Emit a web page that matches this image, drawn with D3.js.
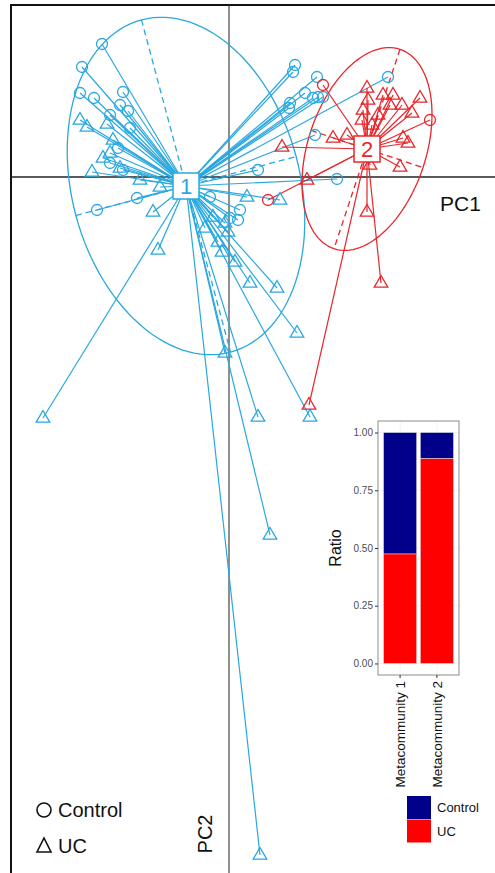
<!DOCTYPE html>
<html>
<head>
<meta charset="utf-8">
<script src="https://cdn.jsdelivr.net/npm/d3@7"></script>
<style>
  body { margin: 0; background: #fff; }
  svg { display: block; font-family: "Liberation Sans", Arial, sans-serif; }
</style>
</head>
<body>
<svg id="chart" width="495" height="873"></svg>
<script>
// ---- Ordination scores (PC1, PC2) per metacommunity and sample type ----
const groupNames = ["1", "2"];
const groupColors = ["#29a8df", "#e8262b"];
const centroids = [[-0.43, -0.09], [1.38, 0.28]];
// [semi-major, semi-minor, major-axis angle in degrees]
const ellipseShapes = [[1.72, 1.14, 105], [1.05, 0.59, 71.7]];

const meta1Control = [
  [-1.27, 1.33], [-1.47, 1.10], [-1.49, 0.84], [-1.35, 0.79], [-1.06, 0.85],
  [-1.09, 0.72], [-1.01, 0.66], [-1.19, 0.62], [0.66, 1.12], [0.64, 1.05],
  [0.88, 1.00], [0.76, 0.84], [0.61, 0.74], [0.60, 0.69], [0.84, 0.79],
  [0.89, 0.80], [0.94, 0.80], [0.86, 0.42], [1.59, 1.00], [0.29, 0.07],
  [1.08, -0.02], [-0.92, -0.21], [-1.32, -0.33], [-1.06, 0.07], [-0.19, -0.20],
  [0.11, -0.33], [0.09, -0.43], [-1.19, 0.14], [-1.11, 0.29], [-0.99, 0.49],
  [0.01, -0.41]
];
const meta1UC = [
  [-1.49, 0.57], [-1.42, 0.50], [-1.22, 0.53], [-1.16, 0.37], [-1.19, 0.24],
  [-1.26, 0.19], [-1.37, 0.05], [-1.09, 0.09], [-0.89, -0.03], [-0.76, -0.35],
  [-0.71, -0.73], [-0.69, -0.10], [0.18, -0.20], [0.51, -0.23], [-0.04, -0.46],
  [-0.24, -0.51], [-0.11, -0.65], [-0.07, -0.75], [0.06, -0.85], [0.21, -1.06],
  [0.48, -1.11], [0.68, -1.56], [-0.04, -1.76], [0.29, -2.40], [0.81, -2.40],
  [0.41, -3.58], [0.31, -6.78], [-1.86, -2.41], [-0.16, -0.40], [-0.01, -0.55]
];
const meta2Control = [[0.94, 0.92], [2.01, 0.57], [0.39, -0.23]];
const meta2UC = [
  [0.53, 0.30], [1.04, 0.39], [1.18, 0.42], [0.78, -0.03], [1.38, 0.89],
  [1.38, -0.35], [1.54, 0.82], [1.64, 0.82], [1.91, 0.79], [1.73, 0.72],
  [1.83, 0.64], [1.34, 0.67], [1.49, 0.62], [1.33, 0.57], [1.74, 0.39],
  [1.79, 0.34], [1.71, 0.10], [1.41, 0.12], [1.52, -1.06], [0.80, -2.28],
  [1.43, 0.52], [1.61, 0.72], [1.39, 0.77]
];

// ---- Share of sample types within each metacommunity ----
const metaCategories = ["Metacommunity 1", "Metacommunity 2"];
const ucRatio = [0.474, 0.887];
const controlRatio = ucRatio.map(v => 1 - v);
const ratioTicks = [0, 0.25, 0.5, 0.75, 1];
const sampleTypes = ["Control", "UC"];
const sampleColors = ["#00008b", "#ff0000"];

const svg = d3.select("#chart");
const x = d3.scaleLinear().domain([-2.18, 2.66]).range([11, 495]);
const y = d3.scaleLinear().domain([1.72, -6.96]).range([5, 873]);

// frame and zero axes
svg.append("rect").attr("x", 11).attr("y", 5).attr("width", 520).attr("height", 920)
  .attr("fill", "none").attr("stroke", "#111").attr("stroke-width", 2);
svg.append("line").attr("x1", 11).attr("x2", 495).attr("y1", y(0)).attr("y2", y(0))
  .attr("stroke", "#222").attr("stroke-width", 1.5);
svg.append("line").attr("x1", x(0)).attr("x2", x(0)).attr("y1", 5).attr("y2", 873)
  .attr("stroke", "#333").attr("stroke-width", 1.1);

const groups = [
  { c: centroids[0], e: ellipseShapes[0], color: groupColors[0], name: groupNames[0],
    pts: meta1Control.map(p => ({p, t: "c"})).concat(meta1UC.map(p => ({p, t: "u"}))) },
  { c: centroids[1], e: ellipseShapes[1], color: groupColors[1], name: groupNames[1],
    pts: meta2Control.map(p => ({p, t: "c"})).concat(meta2UC.map(p => ({p, t: "u"}))) }
];

function rot(c, ang, u, v) {
  const t = ang * Math.PI / 180;
  return [c[0] + u * Math.cos(t) - v * Math.sin(t), c[1] + u * Math.sin(t) + v * Math.cos(t)];
}
const line = d3.line().x(d => x(d[0])).y(d => y(d[1]));

const triPath = "M0,-7.5L6.8,4.2L-6.8,4.2Z";

groups.forEach(g => {
  const [a, b, ang] = g.e;
  const pts = d3.range(0, 361, 3).map(deg => {
    const u = deg * Math.PI / 180;
    return rot(g.c, ang, a * Math.cos(u), b * Math.sin(u));
  });
  svg.append("path").attr("d", line(pts)).attr("fill", "none")
    .attr("stroke", g.color).attr("stroke-width", 1.3);
  // ellipse axes
  [[[a, 0], [-a, 0]], [[0, b], [0, -b]]].forEach(([p, q]) => {
    svg.append("path").attr("d", line([rot(g.c, ang, p[0], p[1]), rot(g.c, ang, q[0], q[1])]))
      .attr("fill", "none").attr("stroke", g.color).attr("stroke-width", 1.3)
      .attr("stroke-dasharray", "6,4");
  });
  // star lines
  g.pts.forEach(d => {
    svg.append("line").attr("x1", x(g.c[0])).attr("y1", y(g.c[1]))
      .attr("x2", x(d.p[0])).attr("y2", y(d.p[1]))
      .attr("stroke", g.color).attr("stroke-width", 1.2);
  });
});

groups.forEach(g => {
  g.pts.forEach(d => {
    if (d.t === "c") {
      svg.append("circle").attr("cx", x(d.p[0])).attr("cy", y(d.p[1])).attr("r", 5.5)
        .attr("fill", "none").attr("stroke", g.color).attr("stroke-width", 1.3);
    } else {
      svg.append("path").attr("d", triPath)
        .attr("transform", `translate(${x(d.p[0])},${y(d.p[1])})`)
        .attr("fill", "none").attr("stroke", g.color).attr("stroke-width", 1.3);
    }
  });
});

groups.forEach(g => {
  const cx = x(g.c[0]), cy = y(g.c[1]);
  svg.append("rect").attr("x", cx - 13).attr("y", cy - 13).attr("width", 26).attr("height", 26)
    .attr("fill", "#fff").attr("stroke", g.color).attr("stroke-width", 1.5);
  svg.append("text").attr("x", cx).attr("y", cy + 8).attr("text-anchor", "middle")
    .attr("font-size", 22).attr("fill", g.color).text(g.name);
});

// axis names
svg.append("text").attr("x", 440).attr("y", 211).attr("font-size", 21).attr("fill", "#111").text("PC1");
svg.append("text").attr("transform", "translate(212,834) rotate(-90)").attr("text-anchor", "middle")
  .attr("font-size", 20).attr("fill", "#111").text("PC2");

// symbol legend
const legendRows = [{t: "c", label: "Control", y: 810}, {t: "u", label: "UC", y: 846}];
legendRows.forEach(r => {
  if (r.t === "c") {
    svg.append("circle").attr("cx", 44).attr("cy", r.y).attr("r", 7)
      .attr("fill", "none").attr("stroke", "#111").attr("stroke-width", 1.6);
  } else {
    svg.append("path").attr("d", "M0,-8L7,6L-7,6Z").attr("transform", `translate(44,${r.y})`)
      .attr("fill", "none").attr("stroke", "#111").attr("stroke-width", 1.6);
  }
  svg.append("text").attr("x", 58).attr("y", r.y + 7).attr("font-size", 20)
    .attr("fill", "#111").text(r.label);
});

// ---- inset stacked bar chart ----
const panel = {x0: 378, x1: 459, y0: 421, y1: 675};
const ry = d3.scaleLinear().domain([-0.05, 1.05]).range([panel.y1, panel.y0]);
const bx = d3.scaleBand().domain(metaCategories).range([panel.x0, panel.x1])
  .paddingInner(0.1).paddingOuter(0.15);
const inset = svg.append("g");
inset.append("rect").attr("x", panel.x0).attr("y", panel.y0)
  .attr("width", panel.x1 - panel.x0).attr("height", panel.y1 - panel.y0).attr("fill", "#fff");
ratioTicks.forEach(t => {
  inset.append("line").attr("x1", panel.x0).attr("x2", panel.x1).attr("y1", ry(t)).attr("y2", ry(t))
    .attr("stroke", "#ebebeb").attr("stroke-width", 0.6);
});
metaCategories.forEach(c => {
  const cx = bx(c) + bx.bandwidth() / 2;
  inset.append("line").attr("x1", cx).attr("x2", cx).attr("y1", panel.y0).attr("y2", panel.y1)
    .attr("stroke", "#ebebeb").attr("stroke-width", 0.6);
});
metaCategories.forEach((c, i) => {
  inset.append("rect").attr("x", bx(c)).attr("width", bx.bandwidth())
    .attr("y", ry(1)).attr("height", ry(ucRatio[i]) - ry(1))
    .attr("fill", sampleColors[0]).attr("stroke", "#e6e6e6").attr("stroke-width", 0.5);
  inset.append("rect").attr("x", bx(c)).attr("width", bx.bandwidth())
    .attr("y", ry(ucRatio[i])).attr("height", ry(0) - ry(ucRatio[i]))
    .attr("fill", sampleColors[1]).attr("stroke", "#e6e6e6").attr("stroke-width", 0.5);
});
inset.append("rect").attr("x", panel.x0).attr("y", panel.y0)
  .attr("width", panel.x1 - panel.x0).attr("height", panel.y1 - panel.y0)
  .attr("fill", "none").attr("stroke", "#8c8c8c").attr("stroke-width", 1);

const yAxis = inset.append("g").attr("transform", `translate(${panel.x0},0)`)
  .call(d3.axisLeft(ry).tickValues(ratioTicks).tickFormat(d3.format(".2f")).tickSize(3).tickPadding(2));
yAxis.select(".domain").remove();
yAxis.selectAll("line").attr("stroke", "#333");
yAxis.selectAll("text").attr("font-size", 10).attr("fill", "#4d4d4d")
  .attr("font-family", "Liberation Sans, Arial, sans-serif");

const xAxis = inset.append("g").attr("transform", `translate(0,${panel.y1})`)
  .call(d3.axisBottom(bx).tickSize(3).tickPadding(2));
xAxis.select(".domain").remove();
xAxis.selectAll("line").attr("stroke", "#333");
xAxis.selectAll("text").attr("font-size", 13.5).attr("fill", "#111")
  .attr("font-family", "Liberation Sans, Arial, sans-serif")
  .attr("transform", "rotate(-90)").attr("text-anchor", "end")
  .attr("dy", "0.35em").attr("x", -6).attr("y", 0);

inset.append("text").attr("transform", `translate(341,${(panel.y0 + panel.y1) / 2}) rotate(-90)`)
  .attr("text-anchor", "middle").attr("font-size", 16).attr("fill", "#111").text("Ratio");

sampleTypes.forEach((s, i) => {
  inset.append("rect").attr("x", 407).attr("y", 796 + i * 23.5).attr("width", 24).attr("height", 23)
    .attr("fill", sampleColors[i]);
  inset.append("text").attr("x", 437).attr("y", 812 + i * 23.5).attr("font-size", 13)
    .attr("fill", "#111").text(s);
});
</script>
</body>
</html>
